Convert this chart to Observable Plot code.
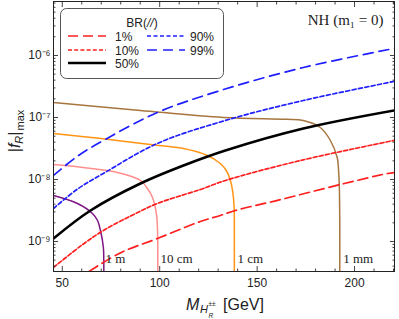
<!DOCTYPE html>
<html><head><meta charset="utf-8">
<script src="https://cdn.jsdelivr.net/npm/d3@7"></script>
<script src="https://cdn.jsdelivr.net/npm/@observablehq/plot@0.6"></script>
<style>
body{margin:0;background:#fff;}
#chart{width:399px;height:319px;}
</style></head><body><div id="chart"></div>
<script>
// ---- data (mass in GeV, log10 |f_R|max) ----
const br1Mass = [63.9, 80, 98.8, 120.9, 131.1, 138.8, 160, 192.7, 216.9, 221];
const br1Log  = [-9.48, -9.18, -8.952, -8.677, -8.581, -8.5, -8.34, -8.081, -7.903, -7.885];
const br10Mass = [45.5, 60, 71.1, 85, 98.8, 120.9, 133.7, 172.2, 221];
const br10Log  = [-9.419, -9.06, -8.823, -8.59, -8.387, -8.161, -8.016, -7.694, -7.365];
const br50Mass = [45.5, 64.5, 90.1, 112.2, 133.7, 173.7, 221];
const br50Log  = [-8.952, -8.5, -8.065, -7.774, -7.532, -7.177, -6.882];
const br90Mass = [45.5, 58, 71.1, 98.8, 133.7, 173.7, 221];
const br90Log  = [-8.468, -8.15, -7.903, -7.419, -7.048, -6.726, -6.414];
const br99Mass = [45.5, 58, 71.1, 98.8, 131.1, 173.7, 221];
const br99Log  = [-7.935, -7.62, -7.371, -6.919, -6.565, -6.194, -5.882];

const mmMass = [45.5, 90.1, 132.7, 165, 173.7, 182.4, 187.6, 191.1, 191.7, 192.2, 192.4, 192.4];
const mmLog  = [-6.758, -6.887, -7.0, -7.03, -7.048, -7.161, -7.371, -7.645, -7.806, -8.129, -8.661, -9.6];
const cmMass = [45.5, 70, 95.2, 112.2, 124.5, 131.1, 134.2, 136.3, 137.5, 138.2, 138.3, 138.3];
const cmLog  = [-7.258, -7.34, -7.435, -7.5, -7.613, -7.742, -7.855, -8.016, -8.2, -8.45, -8.8, -9.6];
const tencmMass = [45.5, 78.3, 90.1, 93.7, 96.3, 98.3, 98.8, 99.0, 99.0];
const tencmLog  = [-7.758, -7.887, -8.016, -8.145, -8.29, -8.548, -8.75, -9.0, -9.6];
const mMass = [45.5, 57.8, 65.5, 68.1, 69.6, 71.1, 71.3, 71.3];
const mLog  = [-8.258, -8.387, -8.548, -8.661, -8.823, -9.097, -9.3, -9.6];

const brLabels = ["1%", "10%", "50%", "90%", "99%"];
const decayLabels = ["1 m", "10 cm", "1 cm", "1 mm"];
const decayLabelMass = [72.2, 100.4, 139.9, 194.2];
const decayLabelLog = [-9.274, -9.274, -9.274, -9.274];

const xTicks = [50, 100, 150, 200];
const yTickExps = [-9, -8, -7, -6];

// ---- styles ----
const brStyles = [
  {color: "#ff1f1f", dash: "10,5", width: 1.7},
  {color: "#ff1f1f", dash: "4,2.2", width: 1.7},
  {color: "#000000", dash: null, width: 2.6},
  {color: "#1f1fff", dash: "4,2.5", width: 1.7},
  {color: "#1f1fff", dash: "10,6", width: 1.7}
];
const decayColors = ["#7d1585", "#ff8f8f", "#ff9414", "#a87540"];

const brSeries = [[br1Mass, br1Log], [br10Mass, br10Log], [br50Mass, br50Log], [br90Mass, br90Log], [br99Mass, br99Log]];
const decaySeries = [[mMass, mLog], [tencmMass, tencmLog], [cmMass, cmLog], [mmMass, mmLog]];
const toRows = ([xs, ls]) => xs.map((x, i) => ({x, y: 10 ** ls[i]}));

const xMinor = d3.range(50, 221, 10).filter(v => !xTicks.includes(v));
const yMinor = [];
for (let e = -10; e <= -6; e++) for (let k = 2; k <= 9; k++) yMinor.push(k * 10 ** e);
const yDomain = [10 ** -9.484, 10 ** -5.129];
const yMinorIn = yMinor.filter(v => v >= yDomain[0] && v <= yDomain[1]);

const sup = {"-": "⁻", "0": "⁰", "1": "¹", "2": "²", "3": "³", "4": "⁴", "5": "⁵", "6": "⁶", "7": "⁷", "8": "⁸", "9": "⁹"};
const fmtPow = d => "10" + String(Math.round(Math.log10(d))).split("").map(c => sup[c]).join("");

const marks = [];
decaySeries.forEach((s, i) => marks.push(Plot.line(toRows(s), {x: "x", y: "y", stroke: decayColors[i], strokeWidth: 1.5, curve: "catmull-rom", clip: true})));
brSeries.forEach((s, i) => marks.push(Plot.line(toRows(s), {x: "x", y: "y", stroke: brStyles[i].color, strokeWidth: brStyles[i].width, strokeDasharray: brStyles[i].dash, curve: "catmull-rom", clip: true})));
marks.push(Plot.text(decayLabels.map((t, i) => ({t, x: decayLabelMass[i], y: 10 ** decayLabelLog[i]})),
  {x: "x", y: "y", text: "t", textAnchor: "start", fontFamily: "Liberation Serif", fontSize: 13, fill: "#222"}));
marks.push(Plot.text(["NH (m₁ = 0)"], {frameAnchor: "top-right", dx: -11, dy: 13, textAnchor: "end", fontFamily: "Liberation Serif", fontSize: 15, fill: "#222"}));
// axes (labels outside, ticks inside, mirrored)
marks.push(Plot.axisX({ticks: xTicks, tickSize: 0, tickPadding: 7, label: null, fontSize: 12, fill: "#222"}));
marks.push(Plot.axisY({ticks: yTickExps.map(e => 10 ** e), tickFormat: fmtPow, tickSize: 0, tickPadding: 3, label: null, fontSize: 12, fill: "#222"}));
for (const anchor of ["bottom", "top"]) {
  marks.push(Plot.axisX({anchor, ticks: xTicks, tickSize: -5, fill: "none", label: null, stroke: "#444"}));
  marks.push(Plot.axisX({anchor, ticks: xMinor, tickSize: -2.5, fill: "none", label: null, stroke: "#444"}));
}
for (const anchor of ["left", "right"]) {
  marks.push(Plot.axisY({anchor, ticks: yTickExps.map(e => 10 ** e), tickSize: -5, fill: "none", label: null, stroke: "#444"}));
  marks.push(Plot.axisY({anchor, ticks: yMinorIn, tickSize: -2.5, fill: "none", label: null, stroke: "#444"}));
}
marks.push(Plot.frame({stroke: "#222"}));

const chart = Plot.plot({
  width: 399, height: 319,
  marginTop: 1, marginRight: 5, marginBottom: 48, marginLeft: 53,
  style: {fontFamily: "Liberation Sans", background: "white"},
  x: {domain: [45.5, 220.5]},
  y: {type: "log", domain: yDomain},
  marks
});
document.getElementById("chart").appendChild(chart);

const svg = d3.select(chart);
// y label |f_R|_max
const yl = svg.append("text").attr("transform", "translate(20,131) rotate(-90)").attr("text-anchor", "middle")
  .style("font-family", "Liberation Sans").style("font-size", "16px").attr("fill", "#222");
yl.append("tspan").text("|");
yl.append("tspan").attr("font-style", "italic").text("f");
yl.append("tspan").attr("font-style", "italic").attr("font-size", "11px").attr("dy", 3).text("R");
yl.append("tspan").attr("dy", -3).text("|");
yl.append("tspan").attr("font-size", "11px").attr("dy", 4).attr("dx", 1).text("max");
// x label M_{H_R^{±±}} [GeV]
const xl = svg.append("g").style("font-family", "Liberation Sans").attr("fill", "#222").attr("text-anchor", "start");
xl.append("text").attr("x", 186).attr("y", 310).attr("font-size", 16).attr("font-style", "italic").text("M");
xl.append("text").attr("x", 200).attr("y", 313).attr("font-size", 11).attr("font-style", "italic").text("H");
xl.append("text").attr("x", 208.5).attr("y", 306).attr("font-size", 6.5).text("±±");
xl.append("text").attr("x", 208.5).attr("y", 317.5).attr("font-size", 6.5).attr("font-style", "italic").text("R");
xl.append("text").attr("x", 223).attr("y", 310).attr("font-size", 16).text("[GeV]");

// legend
const lg = svg.append("g").style("font-family", "Liberation Sans").style("font-size", "12px").attr("text-anchor", "start");
lg.append("rect").attr("x", 60.5).attr("y", 8.5).attr("width", 163).attr("height", 70).attr("rx", 6)
  .attr("fill", "white").attr("stroke", "#555");
const lt = lg.append("text").attr("x", 142).attr("y", 27).attr("text-anchor", "middle").attr("fill", "#222");
lt.append("tspan").text("BR(");
lt.append("tspan").attr("font-style", "italic").text("//");
lt.append("tspan").text(")");
const legendPos = [[68, 36], [68, 50], [68, 63], [147, 36], [147, 50]];
brLabels.forEach((lab, i) => {
  const [lx, ly] = legendPos[i];
  lg.append("line").attr("x1", lx).attr("x2", lx + 38).attr("y1", ly).attr("y2", ly)
    .attr("stroke", brStyles[i].color).attr("stroke-width", brStyles[i].width)
    .attr("stroke-dasharray", brStyles[i].dash);
  lg.append("text").attr("x", lx + (i < 3 ? 47 : 43)).attr("y", ly + 4.5).attr("fill", "#222").text(lab);
});
</script></body></html>
